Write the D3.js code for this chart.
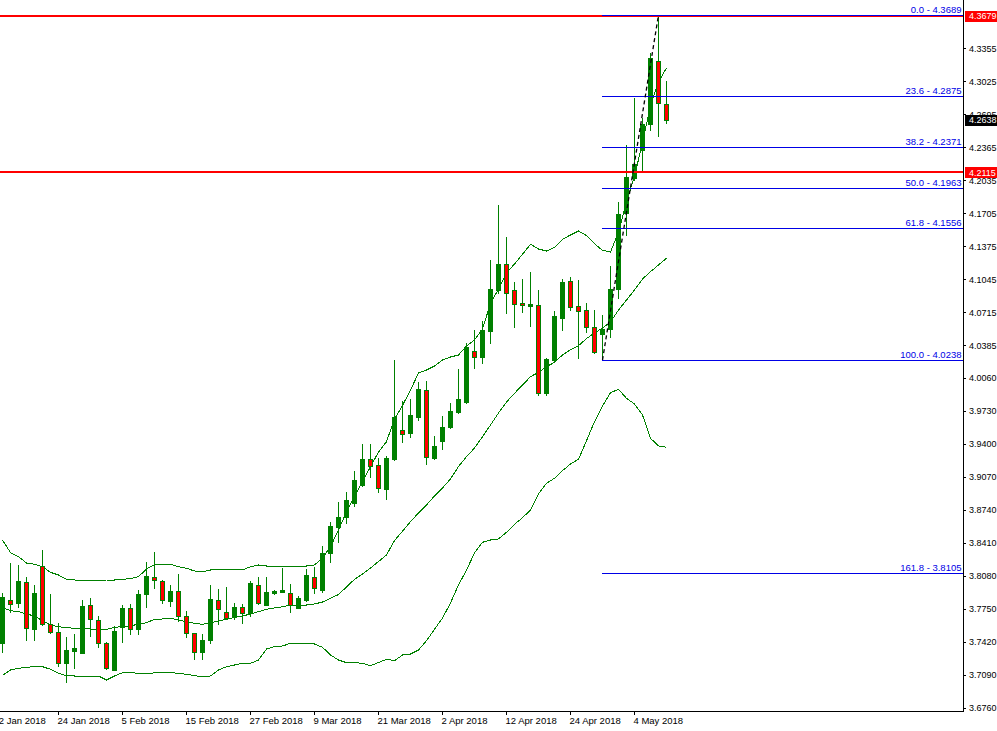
<!DOCTYPE html>
<html><head><meta charset="utf-8">
<script src="https://cdn.jsdelivr.net/npm/d3@7"></script>
<style>
html,body{margin:0;padding:0;background:#fff;overflow:hidden}
svg{display:block}
text{font-family:"Liberation Sans",Arial,sans-serif;font-size:9.5px}
.yl text, text.yl{font-size:9px}
</style>
</head><body><div id="chart"></div>
<script>
// ---- data (USD/TRY daily, 15 Jan 2018 .. 10 May 2018) ----
const openP = [3.7405,3.7838,3.7805,3.8015,3.7545,3.8178,3.7595,3.7515,3.7211,3.7331,
3.7311,3.7788,3.7638,3.7405,3.7138,3.7571,3.7755,3.7545,3.7895,3.8071,
3.8031,3.7831,3.7928,3.7678,3.7505,3.7321,3.7438,3.7838,3.7715,3.7671,
3.7765,3.7705,3.7988,3.7788,3.7905,3.7921,3.7905,3.7761,3.7838,3.8071,
3.7938,3.8305,3.8565,3.8665,3.8811,3.8988,3.9248,3.9188,3.8948,3.9248,
3.9538,3.9511,3.9671,3.9938,3.9261,3.9431,3.9565,3.9721,3.9821,4.0328,
4.0271,4.0531,4.0938,4.1198,4.0938,4.0811,4.0781,4.0788,3.9905,4.0238,
4.0661,4.1028,4.0778,4.0738,4.0565,4.0498,4.0545,4.0945,4.1705,4.2055,
4.2338,4.2595,4.3228,4.2795];
const highP = [3.7911,3.8205,3.8188,3.8071,3.7988,3.8338,3.7898,3.7611,3.7471,3.7498,
3.7838,3.7855,3.7678,3.7421,3.7578,3.7788,3.7798,3.7938,3.8221,3.8321,
3.8038,3.7988,3.8095,3.7728,3.7511,3.7495,3.7988,3.7945,3.7965,3.7805,
3.7798,3.8031,3.8071,3.8071,3.7938,3.8155,3.7995,3.7878,3.8145,3.8171,
3.8378,3.8621,3.8815,3.8921,3.9128,3.9395,3.9395,3.9261,3.9278,4.0238,
3.9828,3.9848,4.0015,4.0028,3.9478,3.9678,3.9811,4.0148,4.0405,4.0538,
4.0628,4.1238,4.1788,4.1468,4.1015,4.1048,4.1115,4.0938,4.0255,4.0728,
4.1048,4.1071,4.1038,4.0805,4.0738,4.0688,4.1178,4.1815,4.2388,4.2855,
4.2655,4.3311,4.3689,4.3028];
const lowP = [3.7321,3.7721,3.7771,3.7438,3.7438,3.7588,3.7505,3.7178,3.7021,3.7155,
3.7308,3.7478,3.7371,3.7148,3.7138,3.7421,3.7498,3.7498,3.7771,3.7955,
3.7811,3.7778,3.7631,3.7471,3.7245,3.7248,3.7411,3.7598,3.7645,3.7645,
3.7611,3.7678,3.7798,3.7788,3.7898,3.7918,3.7721,3.7755,3.7831,3.7911,
3.7921,3.8221,3.8421,3.8611,3.8781,3.8981,3.9071,3.8921,3.8851,3.9238,
3.9421,3.9471,3.9638,3.9198,3.9248,3.9348,3.9558,3.9711,3.9811,4.0161,
4.0211,4.0411,4.0905,4.0705,4.0571,4.0721,4.0581,3.9888,3.9888,4.0231,
4.0538,4.0738,4.0261,4.0521,4.0311,4.0238,4.0465,4.0855,4.1488,4.2038,
4.2121,4.2538,4.2478,4.2605];
const closeP = [3.7871,3.7798,3.8028,3.7555,3.7905,3.7595,3.7515,3.7205,3.7338,3.7361,
3.7778,3.7645,3.7411,3.7155,3.7528,3.7761,3.7545,3.7898,3.8078,3.8038,
3.7835,3.7928,3.7678,3.7505,3.7315,3.7438,3.7848,3.7745,3.7655,3.7765,
3.7705,3.8011,3.7811,3.7915,3.7928,3.7938,3.7788,3.7855,3.8088,3.7955,
3.8305,3.8578,3.8671,3.8838,3.9038,3.9248,3.9181,3.8955,3.9261,3.9671,
3.9495,3.9688,3.9948,3.9265,3.9378,3.9565,3.9728,3.9848,4.0371,4.0271,
4.0538,4.0948,4.1198,4.0911,4.0795,4.0788,4.0798,3.9911,4.0248,4.0678,
4.1015,4.0771,4.0731,4.0571,4.0315,4.0548,4.0945,4.1698,4.2065,4.2195,
4.2595,4.3255,4.2805,4.2638];

const bbUpper = [3.8438,3.8311,3.8271,3.8208,3.8195,3.8171,3.8115,3.8088,3.8045,3.8038,
3.8035,3.8035,3.8035,3.8038,3.8038,3.8045,3.8051,3.8071,3.8148,3.8191,
3.8193,3.8195,3.8171,3.8155,3.8128,3.8121,3.8138,3.8145,3.8145,3.8145,
3.8138,3.8171,3.8188,3.8178,3.8178,3.8178,3.8178,3.8178,3.8178,3.8188,
3.8258,3.8371,3.8538,3.8721,3.8871,3.9021,3.9171,3.9318,3.9421,3.9648,
3.9783,3.9938,4.0108,4.0138,4.0178,4.0238,4.0268,4.0288,4.0378,4.0438,
4.0548,4.0805,4.0948,4.1108,4.1198,4.1295,4.1395,4.1348,4.1328,4.1365,
4.1445,4.1488,4.1528,4.1483,4.1400,4.1335,4.1318,4.1518,4.1818,4.2078,
4.2408,4.2788,4.3018,4.3158];
const bbMiddle = [3.7763,3.7731,3.7721,3.7698,3.7678,3.7631,3.7588,3.7571,3.7561,3.7555,
3.7555,3.7548,3.7545,3.7545,3.7565,3.7571,3.7578,3.7598,3.7611,3.7645,
3.7648,3.7655,3.7638,3.7621,3.7605,3.7595,3.7611,3.7628,3.7645,3.7665,
3.7678,3.7698,3.7721,3.7745,3.7758,3.7771,3.7785,3.7788,3.7788,3.7798,
3.7818,3.7855,3.7893,3.7968,3.8045,3.8098,3.8158,3.8223,3.8288,3.8433,
3.8525,3.8621,3.8708,3.8788,3.8878,3.8958,3.9048,3.9173,3.9271,3.9358,
3.9471,3.9588,3.9708,3.9818,3.9905,3.9988,4.0071,4.0115,4.0171,4.0215,
4.0288,4.0341,4.0381,4.0453,4.0508,4.0558,4.0618,4.0738,4.0838,4.0938,
4.1048,4.1121,4.1188,4.1255];
const bbLower = [3.7085,3.7138,3.7155,3.7165,3.7171,3.7171,3.7145,3.7105,3.7081,3.7078,
3.7078,3.7078,3.7078,3.7038,3.7078,3.7111,3.7111,3.7105,3.7098,3.7111,
3.7113,3.7111,3.7105,3.7095,3.7081,3.7071,3.7078,3.7138,3.7171,3.7188,
3.7205,3.7205,3.7238,3.7348,3.7371,3.7378,3.7405,3.7405,3.7405,3.7398,
3.7365,3.7288,3.7238,3.7211,3.7211,3.7205,3.7181,3.7213,3.7245,3.7231,
3.7288,3.7298,3.7338,3.7431,3.7545,3.7658,3.7808,3.7988,3.8138,3.8308,
3.8415,3.8438,3.8448,3.8515,3.8595,3.8661,3.8738,3.8898,3.9005,3.9055,
3.9131,3.9198,3.9245,3.9431,3.9621,3.9778,3.9911,3.9945,3.9855,3.9798,
3.9688,3.9455,3.9378,3.9365];

const yTickValues = [4.3355,4.3025,4.2695,4.2365,4.2035,4.1705,4.1375,4.1045,4.0715,4.0385,
4.0060,3.9730,3.9400,3.9070,3.8740,3.8410,3.8080,3.7750,3.7420,3.7090,3.6760];
const xTickLabels = ["12 Jan 2018","24 Jan 2018","5 Feb 2018","15 Feb 2018","27 Feb 2018","9 Mar 2018",
"21 Mar 2018","2 Apr 2018","12 Apr 2018","24 Apr 2018","4 May 2018"];
const xTickBars = [-1,7,15,23,31,39,47,55,63,71,79];

const redLevels = [4.3679, 4.2115];
const fibRatios = ["0.0","23.6","38.2","50.0","61.8","100.0","161.8"];
const fibPrices = [4.3689,4.2875,4.2371,4.1963,4.1556,4.0238,3.8105];
const fibFromBar = 75, fibToBar = 82;
const lastPrice = 4.2638;

// ---- layout ----
const W = 997, H = 731;
const axisX = 963, axisY = 711;
const GREEN = "#008000", RED = "#ff0000", BLUE = "#0000e6";

const x = d3.scaleLinear().domain([0, 83]).range([2, 666]);
const y = d3.scaleLinear().domain([3.6838, 4.3838]).range([700, 0]);
const cx = i => x(i) + 0.5;
const py = p => Math.round(y(p));

const svg = d3.select("#chart").append("svg").attr("width", W).attr("height", H);
svg.append("rect").attr("width", W).attr("height", H).attr("fill", "#fff");

svg.append("clipPath").attr("id", "plot").append("rect")
  .attr("x", 0).attr("y", 0).attr("width", axisX).attr("height", axisY);
const plot = svg.append("g").attr("clip-path", "url(#plot)");

// Bollinger bands
const idx = d3.range(closeP.length);
[bbUpper, bbMiddle, bbLower].forEach(arr => {
  plot.append("path")
    .attr("d", d3.line().x(i => cx(i)).y(i => y(arr[i]))(idx))
    .attr("fill", "none").attr("stroke", GREEN).attr("stroke-width", 1)
    .attr("shape-rendering", "crispEdges");
});

// candles
const cg = plot.append("g").attr("shape-rendering", "crispEdges");
idx.forEach(i => {
  cg.append("line")
    .attr("x1", cx(i)).attr("x2", cx(i))
    .attr("y1", py(highP[i])).attr("y2", py(lowP[i]) + 1)
    .attr("stroke", GREEN).attr("stroke-width", 1);
});
idx.forEach(i => {
  const o = openP[i], c = closeP[i];
  const top = py(Math.max(o, c)), bot = py(Math.min(o, c));
  cg.append("rect")
    .attr("x", x(i) - 1.5).attr("y", top + 0.5)
    .attr("width", 4).attr("height", Math.max(bot - top, 0))
    .attr("fill", c >= o ? GREEN : RED)
    .attr("stroke", GREEN).attr("stroke-width", 1);
});

// red horizontal levels
redLevels.forEach(p => {
  plot.append("rect").attr("x", 0).attr("width", axisX)
    .attr("y", Math.round(y(p)) - 1).attr("height", 2).attr("fill", RED);
});

// fibonacci levels
const fg = plot.append("g");
fibPrices.forEach((p, k) => {
  const ly = Math.round(y(p)) + 0.5;
  fg.append("line").attr("x1", x(fibFromBar)).attr("x2", axisX)
    .attr("y1", ly).attr("y2", ly).attr("stroke", BLUE).attr("stroke-width", 1)
    .attr("shape-rendering", "crispEdges");
  fg.append("text").attr("x", axisX - 1.5).attr("y", ly - 2.5)
    .attr("text-anchor", "end").attr("fill", BLUE)
    .text(fibRatios[k] + " - " + d3.format(".4f")(p));
});
// fibonacci base (dashed)
plot.append("line")
  .attr("x1", cx(fibFromBar)).attr("y1", y(fibPrices[5]))
  .attr("x2", cx(fibToBar)).attr("y2", y(fibPrices[0]))
  .attr("stroke", "#000").attr("stroke-width", 1.3).attr("stroke-dasharray", "4,3");

// axes frame
svg.append("line").attr("x1", axisX + 0.5).attr("x2", axisX + 0.5).attr("y1", 0).attr("y2", axisY + 1)
  .attr("stroke", "#000").attr("shape-rendering", "crispEdges");
svg.append("line").attr("x1", 0).attr("x2", axisX + 1).attr("y1", axisY + 0.5).attr("y2", axisY + 0.5)
  .attr("stroke", "#000").attr("shape-rendering", "crispEdges");

// y axis
const yAx = svg.append("g").attr("class", "yl").attr("transform", `translate(${axisX},0)`)
  .call(d3.axisRight(y).tickValues(yTickValues).tickSize(3).tickPadding(3).tickFormat(d3.format(".4f")));
yAx.select(".domain").remove();
yAx.attr("font-family", null).attr("font-size", null);
yAx.selectAll("line").attr("shape-rendering", "crispEdges");
yAx.selectAll("text").attr("fill", "#000");

// x axis
const xAx = svg.append("g").attr("transform", `translate(0,${axisY})`)
  .call(d3.axisBottom(x).tickValues(xTickBars).tickSize(4).tickPadding(2).tickFormat((d, i) => xTickLabels[i]));
xAx.select(".domain").remove();
xAx.attr("font-family", null).attr("font-size", null);
xAx.selectAll("line").attr("shape-rendering", "crispEdges");
xAx.selectAll("text").attr("text-anchor", "start").attr("x", -1).attr("fill", "#000");

// price boxes
function priceBox(p, bg) {
  const cy = y(p);
  svg.append("rect").attr("x", axisX + 2).attr("y", Math.round(cy) - 5.5 + 0.5)
    .attr("width", W - axisX - 2).attr("height", 11).attr("fill", bg);
  svg.append("text").attr("class", "yl").attr("x", axisX + 6).attr("y", cy + 3.4)
    .attr("fill", "#fff").text(d3.format(".4f")(p));
}
redLevels.forEach(p => priceBox(p, RED));
priceBox(lastPrice, "#000");
</script>
</body></html>
